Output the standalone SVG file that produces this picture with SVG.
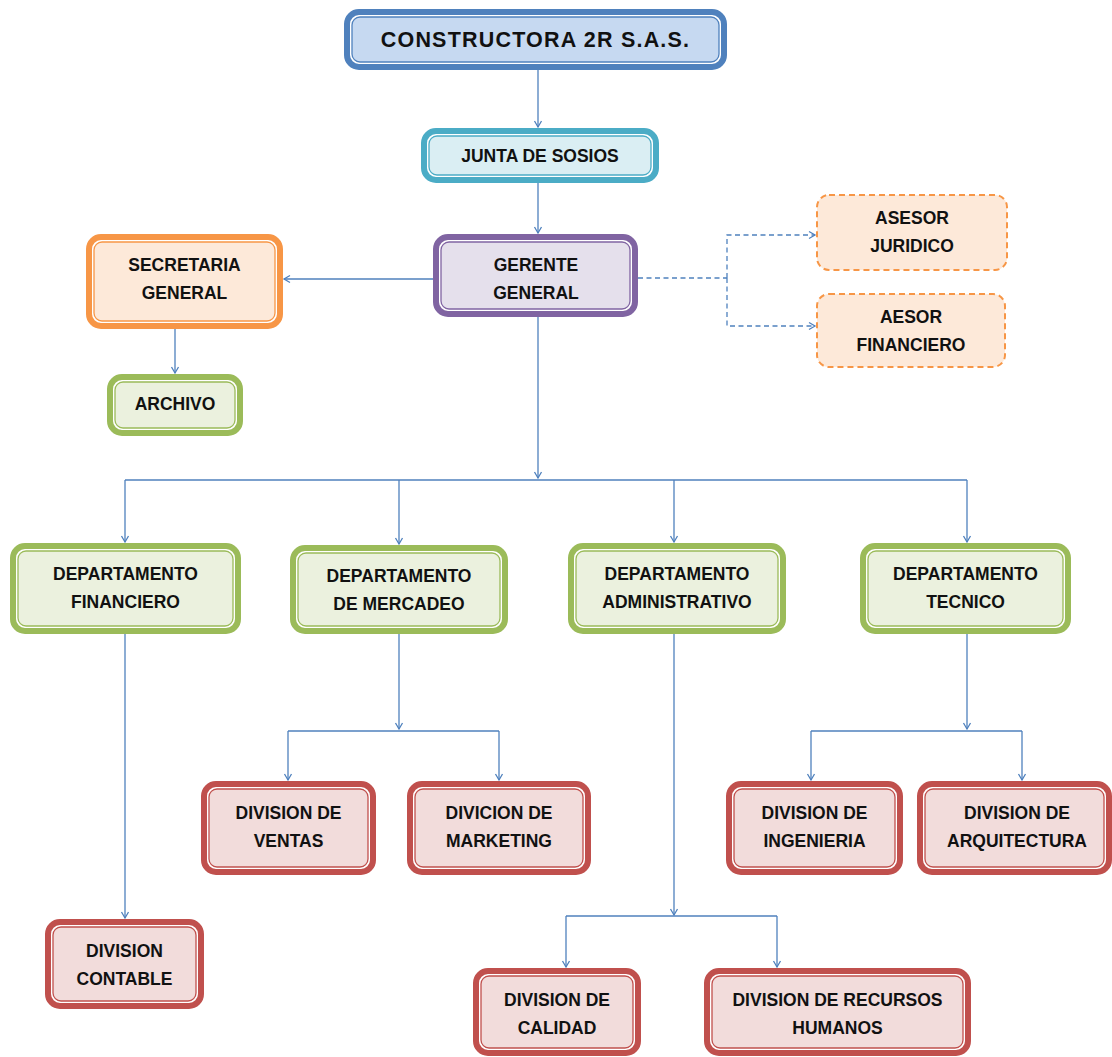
<svg xmlns="http://www.w3.org/2000/svg" width="1112" height="1057" viewBox="0 0 1112 1057">
<defs>
<marker id="arr" markerWidth="10" markerHeight="10" refX="8" refY="5" orient="auto" markerUnits="userSpaceOnUse">
<path d="M2,1.5 L8,5 L2,8.5" fill="none" stroke="#4f81bd" stroke-width="1.3"/>
</marker>
<style>
text{font-family:"Liberation Sans",Arial,sans-serif;font-weight:bold;font-size:17.5px;fill:#111;text-anchor:middle}
.o{fill:#fff;stroke-width:6}
.i{stroke-width:1.3}
.blue .o{stroke:#4f81bd}.blue .i{stroke:#4f81bd;fill:#c6d9f1}
.teal .o{stroke:#4bacc6}.teal .i{stroke:#4bacc6;fill:#daeef3}
.purple .o{stroke:#8064a2}.purple .i{stroke:#8064a2;fill:#e5e0ec}
.orange .o{stroke:#f79646}.orange .i{stroke:#f79646;fill:#fde9d9}
.green .o{stroke:#9bbb59}.green .i{stroke:#9bbb59;fill:#ebf1de}
.red .o{stroke:#c0504d}.red .i{stroke:#c0504d;fill:#f2dcdb}
.dash rect{fill:#fde9d9;stroke:#f79646;stroke-width:2;stroke-dasharray:6 4}
.c path{fill:none;stroke:#4f81bd;stroke-width:1.3}
.c .d{stroke-dasharray:5 3.5}
</style>
</defs>
<rect width="1112" height="1057" fill="#fff"/>
<g class="c" id="connectors">
<path d="M538,70 V127" marker-end="url(#arr)"/>
<path d="M538,183 V233" marker-end="url(#arr)"/>
<path d="M433,279 H284" marker-end="url(#arr)"/>
<path d="M175,329 V373" marker-end="url(#arr)"/>
<path class="d" d="M638,278 H727"/>
<path class="d" d="M727,278 V235 H815" marker-end="url(#arr)"/>
<path class="d" d="M727,278 V326 H815" marker-end="url(#arr)"/>
<path d="M538,317 V478" marker-end="url(#arr)"/>
<path d="M125,480 H967"/>
<path d="M125,480 V542" marker-end="url(#arr)"/>
<path d="M399,480 V544" marker-end="url(#arr)"/>
<path d="M674,480 V542" marker-end="url(#arr)"/>
<path d="M967,480 V542" marker-end="url(#arr)"/>
<path d="M125,634 V918" marker-end="url(#arr)"/>
<path d="M399,634 V729" marker-end="url(#arr)"/>
<path d="M288,731 H499"/>
<path d="M288,731 V780" marker-end="url(#arr)"/>
<path d="M499,731 V780" marker-end="url(#arr)"/>
<path d="M674,634 V915" marker-end="url(#arr)"/>
<path d="M566,916 H777"/>
<path d="M566,916 V967" marker-end="url(#arr)"/>
<path d="M777,916 V967" marker-end="url(#arr)"/>
<path d="M967,634 V729" marker-end="url(#arr)"/>
<path d="M811,731 H1022"/>
<path d="M811,731 V780" marker-end="url(#arr)"/>
<path d="M1022,731 V780" marker-end="url(#arr)"/>
</g>
<g id="constructora" class="blue">
<rect class="o" x="347" y="12" width="377" height="55" rx="12"/>
<rect class="i" x="352" y="17" width="367" height="45" rx="8"/>
<text x="535.5" y="47" style="font-size:21.5px;letter-spacing:1.2px">CONSTRUCTORA 2R S.A.S.</text>
</g>
<g id="junta" class="teal">
<rect class="o" x="424" y="131" width="232" height="49" rx="12"/>
<rect class="i" x="429" y="136" width="222" height="39" rx="8"/>
<text x="540" y="162">JUNTA DE SOSIOS</text>
</g>
<g id="gerente" class="purple">
<rect class="o" x="436" y="237" width="199" height="77" rx="12"/>
<rect class="i" x="441" y="242" width="189" height="67" rx="8"/>
<text x="536" y="271">GERENTE</text>
<text x="536" y="299">GENERAL</text>
</g>
<g id="secretaria" class="orange">
<rect class="o" x="89" y="237" width="191" height="89" rx="12"/>
<rect class="i" x="94" y="242" width="181" height="79" rx="8"/>
<text x="184.5" y="271">SECRETARIA</text>
<text x="184.5" y="299">GENERAL</text>
</g>
<g id="archivo" class="green">
<rect class="o" x="110" y="377" width="130" height="56" rx="12"/>
<rect class="i" x="115" y="382" width="120" height="46" rx="8"/>
<text x="175" y="410">ARCHIVO</text>
</g>
<g id="asesor-juridico" class="dash">
<rect x="817" y="195" width="190" height="75" rx="12"/>
<text x="912" y="224">ASESOR</text>
<text x="912" y="252">JURIDICO</text>
</g>
<g id="asesor-financiero" class="dash">
<rect x="817" y="294" width="188" height="73" rx="12"/>
<text x="911" y="323">AESOR</text>
<text x="911" y="351">FINANCIERO</text>
</g>
<g id="dep-financiero" class="green">
<rect class="o" x="13" y="546" width="225" height="85" rx="12"/>
<rect class="i" x="18" y="551" width="215" height="75" rx="8"/>
<text x="125.5" y="580">DEPARTAMENTO</text>
<text x="125.5" y="608">FINANCIERO</text>
</g>
<g id="dep-mercadeo" class="green">
<rect class="o" x="293" y="548" width="212" height="83" rx="12"/>
<rect class="i" x="298" y="553" width="202" height="73" rx="8"/>
<text x="399" y="582">DEPARTAMENTO</text>
<text x="399" y="610">DE MERCADEO</text>
</g>
<g id="dep-administrativo" class="green">
<rect class="o" x="571" y="546" width="212" height="85" rx="12"/>
<rect class="i" x="576" y="551" width="202" height="75" rx="8"/>
<text x="677" y="580">DEPARTAMENTO</text>
<text x="677" y="608">ADMINISTRATIVO</text>
</g>
<g id="dep-tecnico" class="green">
<rect class="o" x="863" y="546" width="205" height="85" rx="12"/>
<rect class="i" x="868" y="551" width="195" height="75" rx="8"/>
<text x="965.5" y="580">DEPARTAMENTO</text>
<text x="965.5" y="608">TECNICO</text>
</g>
<g id="div-ventas" class="red">
<rect class="o" x="204" y="784" width="169" height="88" rx="12"/>
<rect class="i" x="209" y="789" width="159" height="78" rx="8"/>
<text x="288.5" y="819">DIVISION DE</text>
<text x="288.5" y="847">VENTAS</text>
</g>
<g id="div-marketing" class="red">
<rect class="o" x="410" y="784" width="178" height="88" rx="12"/>
<rect class="i" x="415" y="789" width="168" height="78" rx="8"/>
<text x="499" y="819">DIVICION DE</text>
<text x="499" y="847">MARKETING</text>
</g>
<g id="div-ingenieria" class="red">
<rect class="o" x="729" y="784" width="171" height="88" rx="12"/>
<rect class="i" x="734" y="789" width="161" height="78" rx="8"/>
<text x="814.5" y="819">DIVISION DE</text>
<text x="814.5" y="847">INGENIERIA</text>
</g>
<g id="div-arquitectura" class="red">
<rect class="o" x="920" y="784" width="189" height="88" rx="12"/>
<rect class="i" x="925" y="789" width="179" height="78" rx="8"/>
<text x="1017" y="819">DIVISION DE</text>
<text x="1017" y="847">ARQUITECTURA</text>
</g>
<g id="div-contable" class="red">
<rect class="o" x="48" y="922" width="153" height="84" rx="12"/>
<rect class="i" x="53" y="927" width="143" height="74" rx="8"/>
<text x="124.5" y="957">DIVISION</text>
<text x="124.5" y="985">CONTABLE</text>
</g>
<g id="div-calidad" class="red">
<rect class="o" x="476" y="971" width="162" height="82" rx="12"/>
<rect class="i" x="481" y="976" width="152" height="72" rx="8"/>
<text x="557" y="1006">DIVISION DE</text>
<text x="557" y="1034">CALIDAD</text>
</g>
<g id="div-rrhh" class="red">
<rect class="o" x="707" y="971" width="261" height="82" rx="12"/>
<rect class="i" x="712" y="976" width="251" height="72" rx="8"/>
<text x="837.5" y="1006">DIVISION DE RECURSOS</text>
<text x="837.5" y="1034">HUMANOS</text>
</g>
</svg>
